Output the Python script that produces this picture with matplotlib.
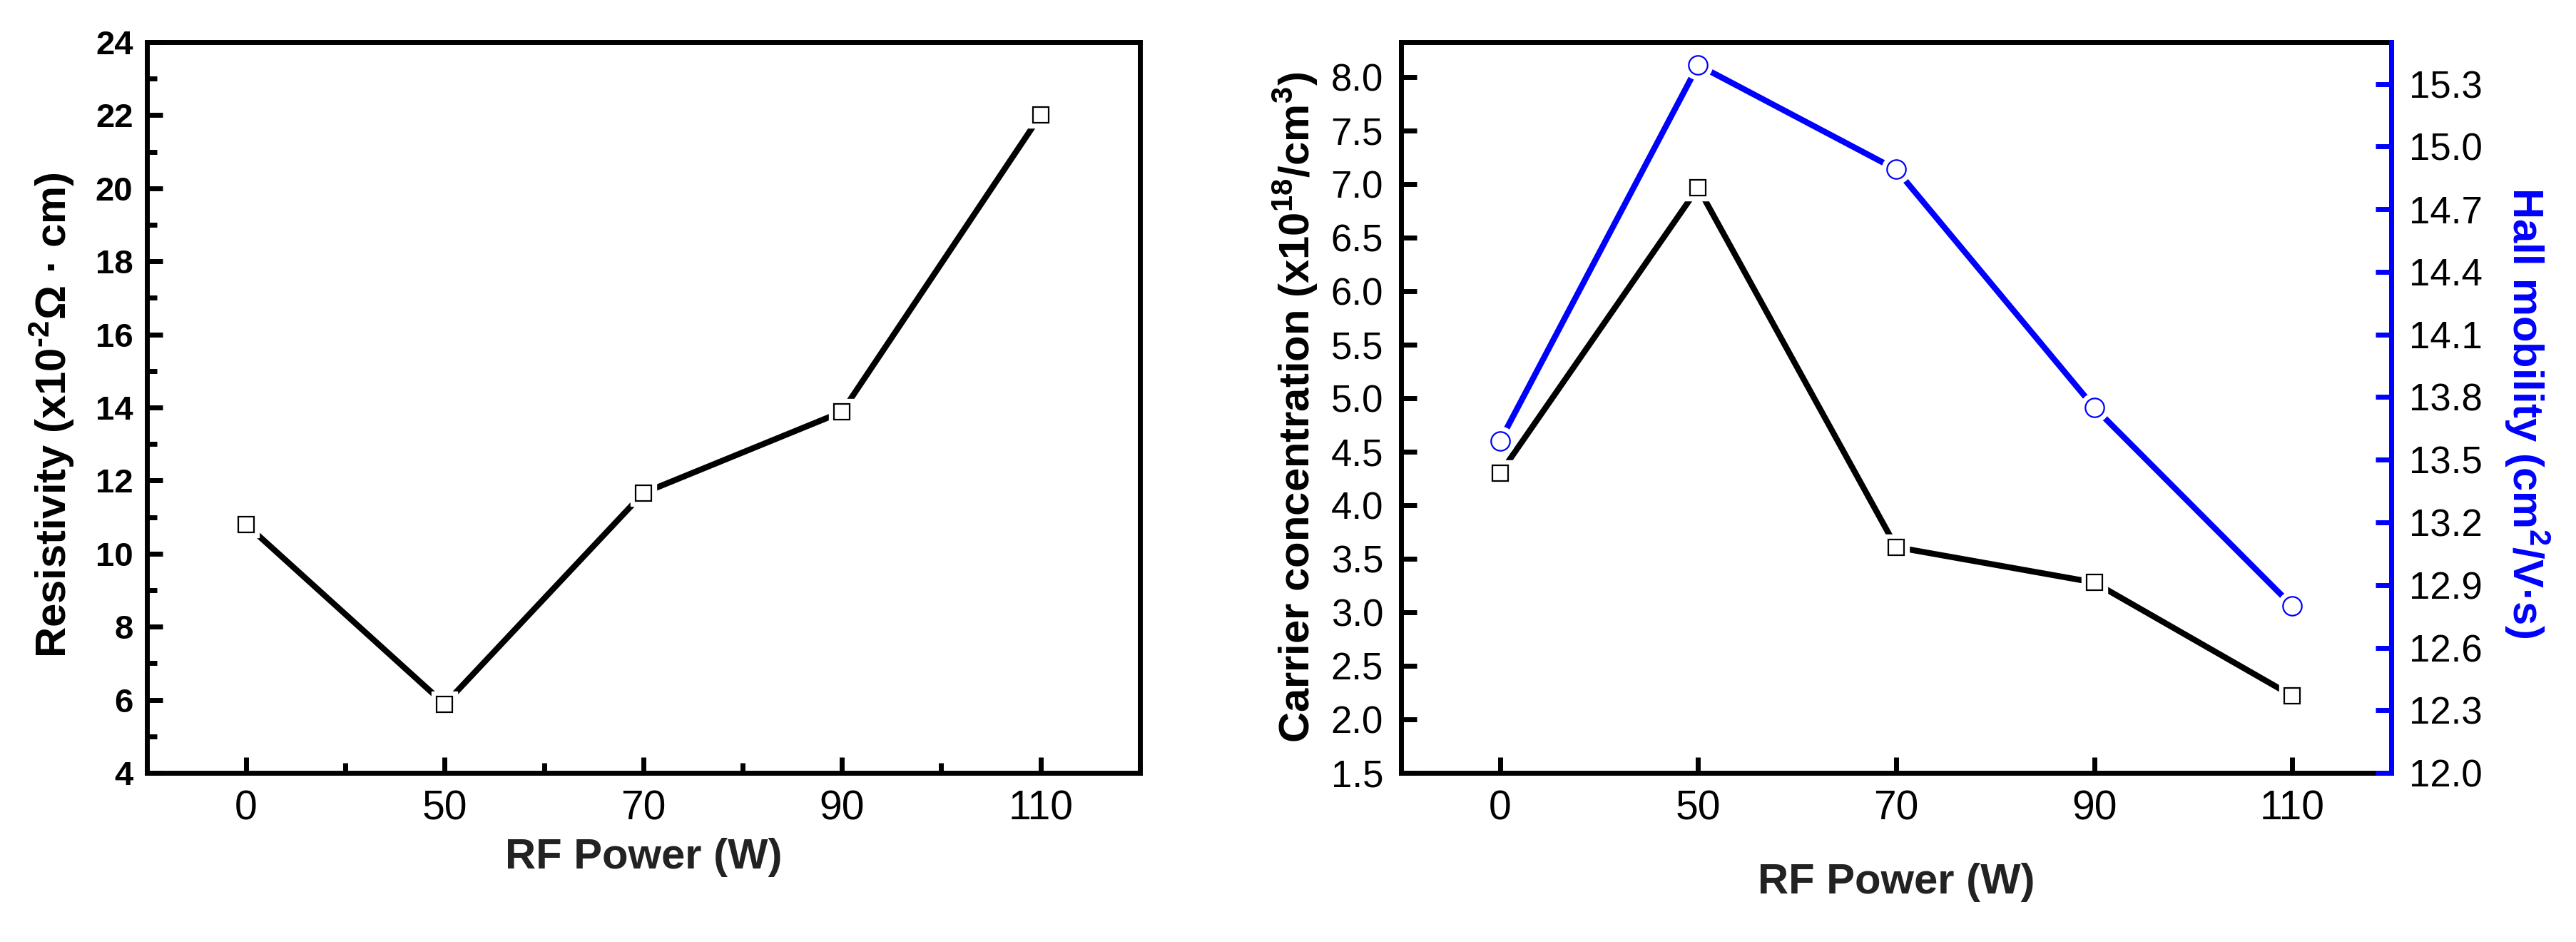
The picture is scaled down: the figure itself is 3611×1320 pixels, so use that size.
import matplotlib
matplotlib.use('Agg')
import matplotlib.pyplot as plt
from matplotlib.ticker import MultipleLocator

plt.rcParams['font.family'] = ['Liberation Sans', 'DejaVu Sans']
plt.rcParams['mathtext.fontset'] = 'custom'
plt.rcParams['mathtext.rm'] = 'Liberation Sans'
plt.rcParams['mathtext.bf'] = 'Liberation Sans:bold'

# data
rf_power = ['0', '50', '70', '90', '110']
resistivity = [10.8, 5.88, 11.66, 13.88, 22.0]
carrier_conc = [4.30, 6.97, 3.61, 3.28, 2.22]
hall_mobility = [13.59, 15.39, 14.89, 13.75, 12.80]

BLUE = '#0000FF'
LW_SPINE = 5
LW_DATA = 6


def plot_series(ax, xs, ys, color, marker, ms):
    ax.plot(xs, ys, color=color, lw=LW_DATA, solid_capstyle='butt', zorder=2)
    # white halo gives the gap between line and marker
    ax.plot(xs, ys, marker, ms=ms + 10, mfc='white', mec='white', ls='none', zorder=3)
    ax.plot(xs, ys, marker, ms=ms, mfc='white', mec=color, mew=1.6, ls='none', zorder=4)


def style_frame(ax):
    for s in ax.spines.values():
        s.set_linewidth(LW_SPINE)
    ax.tick_params(which='both', direction='in', top=False, right=False, width=LW_SPINE)
    ax.tick_params(which='major', length=16)
    ax.tick_params(which='minor', length=10)


fig = plt.figure(figsize=(36.11, 13.2), dpi=100)
xs = list(range(len(rf_power)))

# left panel: resistivity
ax1 = fig.add_axes([0.0570, 0.1795, 0.3855, 0.7758])
plot_series(ax1, xs, resistivity, 'black', 's', 16)
ax1.set_xlim(-0.5, 4.5)
ax1.set_ylim(4, 24)
ax1.set_xticks(xs)
ax1.set_xticklabels(rf_power)
ax1.xaxis.set_minor_locator(MultipleLocator(0.5))
ax1.yaxis.set_major_locator(MultipleLocator(2))
ax1.yaxis.set_minor_locator(MultipleLocator(1))
style_frame(ax1)
ax1.tick_params(axis='y', labelsize=34, pad=14)
ax1.tick_params(axis='x', labelsize=41, pad=17)
for t in ax1.get_yticklabels():
    t.set_fontweight('bold')
ax1.set_ylabel('Resistivity (x10$^{\\mathbf{\u20102}}$Ω · cm)', fontsize=43,
               fontweight='bold', va='center')
ax1.yaxis.set_label_coords(-0.0955, 0.49)
ax1.set_xlabel('RF Power (W)', fontsize=43, fontweight='bold', va='center',
               color='#222222')
ax1.xaxis.set_label_coords(0.5, -0.116)

# right panel: carrier concentration + hall mobility
ax2 = fig.add_axes([0.5439, 0.1795, 0.3844, 0.7758])
plot_series(ax2, xs, carrier_conc, 'black', 's', 16)
ax2.set_xlim(-0.5, 4.5)
ax2.set_ylim(1.5, 8.33)
ax2.set_xticks(xs)
ax2.set_xticklabels(rf_power)
ax2.yaxis.set_major_locator(MultipleLocator(0.5))
ax2.yaxis.set_major_formatter('{x:.1f}')
style_frame(ax2)
ax2.tick_params(axis='y', labelsize=38, pad=18)
ax2.tick_params(axis='x', labelsize=41, pad=17)
ax2.set_ylabel(r'Carrier concentration (x10$^{\mathbf{18}}$/cm$^{\mathbf{3}}$)',
               fontsize=43, fontweight='bold', va='center')
ax2.yaxis.set_label_coords(-0.107, 0.5)
ax2.set_xlabel('RF Power (W)', fontsize=43, fontweight='bold', va='center',
               color='#222222')
ax2.xaxis.set_label_coords(0.5, -0.150)

ax3 = ax2.twinx()
plot_series(ax3, xs, hall_mobility, BLUE, 'o', 19)
ax3.set_ylim(12.0, 15.5)
ax3.yaxis.set_major_locator(MultipleLocator(0.3))
ax3.yaxis.set_major_formatter('{x:.1f}')
for name, s in ax3.spines.items():
    s.set_linewidth(LW_SPINE)
    s.set_visible(name == 'right')
ax3.spines['right'].set_color(BLUE)
ax3.tick_params(axis='y', which='both', direction='in', width=LW_SPINE, length=16,
                color=BLUE, labelsize=38, pad=18)
ax3.set_ylabel(r'Hall mobility (cm$^{\mathbf{2}}$/V·s)', fontsize=43,
               fontweight='bold', color=BLUE, rotation=270, va='center')
ax3.yaxis.set_label_coords(1.137, 0.493)

fig.savefig('out.png', dpi=100)
